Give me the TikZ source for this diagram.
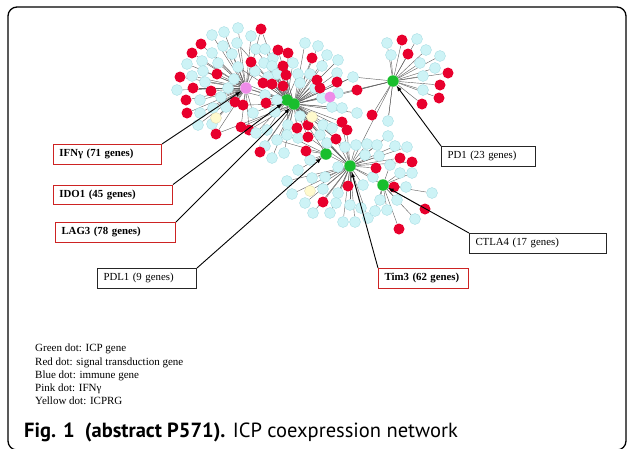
\documentclass[tikz,border=0pt]{standalone}
\usepackage{fontspec}
\setmainfont{Liberation Serif}
\newfontfamily\capfont{PT Sans}
\usetikzlibrary{arrows,backgrounds}
\definecolor{dotblue}{RGB}{205,243,246}
\definecolor{dotrim}{RGB}{170,222,228}
\definecolor{dotred}{RGB}{232,0,45}
\definecolor{dotgreen}{RGB}{25,190,45}
\definecolor{dotpink}{RGB}{238,140,232}
\definecolor{dotyellow}{RGB}{255,250,205}
\definecolor{boxred}{RGB}{205,35,35}

\begin{document}
\begin{tikzpicture}[x=1pt,y=-1pt]
    \tikzset{dot/.style = {shape=circle, inner sep=0pt, minimum size=11pt}}
    \tikzset{dotb/.style = {dot, fill=dotblue, draw=dotrim, line width=0.4pt}}
    \tikzset{dotr/.style = {dot, fill=dotred}}
    \tikzset{doty/.style = {dot, fill=dotyellow, draw=dotyellow!85!black, line width=0.3pt}}
    \tikzset{dotp/.style = {dot, fill=dotpink}}
    \tikzset{hub/.style = {dot, fill=dotgreen, minimum size=11.5pt}}
    \tikzset{link/.style = {draw=black!62, line width=0.42pt}}
    \tikzset{genebox/.style = {draw, line width=1pt, anchor=north west, align=left,
        minimum height=19.5pt, inner xsep=6pt, font=\fontsize{10.8}{13}\selectfont}}
    \tikzset{redbox/.style = {genebox, draw=boxred, font=\fontsize{10.8}{13}\selectfont\bfseries}}
    \tikzset{blackbox/.style = {genebox, draw=black!85}}
    \tikzset{pointer/.style = {->, >=latex, line width=0.9pt}}

    \useasboundingbox (0,0) rectangle (630,448);
    \begin{scope}
        \clip (0,0) rectangle (630,448);
        \draw[line width=1.3pt, rounded corners=9pt] (8,7) rectangle (626,450);
    \end{scope}

    % hubs
    \node[dot, fill=dotpink, minimum size=11.5pt] (ifn) at (246,88) {};
    \node[hub] (ido) at (287,100) {};
    \node[hub] (lag) at (294,104) {};
    \node[hub] (pdone) at (393,81) {};
    \node[hub] (pdlone) at (326,154) {};
    \node[hub] (tim) at (350,166) {};
    \node[hub] (ctla) at (383,185) {};

    % genes around the hubs
    \foreach \px/\py/\k/\h in {
        212/35/b/ifn, 224/32/b/ifn, 238/28/b/ifn, 251/36/b/ifn, 237/43/b/ifn,
        223/46/b/ifn, 212/53/b/ifn, 232/54/b/ifn, 202/61/b/ifn, 218/63/b/ifn,
        187/64/b/ifn, 203/71/b/ifn, 192/76/b/ifn, 238/67/b/ifn, 255/71/b/ifn,
        234/79/b/ifn, 205/82/b/ifn, 177/90/b/ifn, 228/88/b/ifn, 200/100/b/ifn,
        213/108/b/ifn, 200/113/b/ifn, 212/124/b/ifn, 226/107/b/ifn, 253/113/b/ifn,
        198/125/b/ifn, 221/97/b/ifn,
        261/29/r/ifn, 201/44/r/ifn, 192/53/r/ifn, 251/62/r/ifn, 217/74/r/ifn,
        180/77/r/ifn, 193/88/r/ifn, 211/91/r/ifn, 186/100/r/ifn, 235/102/r/ifn,
        243/105/r/ifn, 187/113/r/ifn, 216/134/r/ifn, 241/127/r/ifn, 249/130/r/ifn,
        216/118/y/ifn,
        256/49/b/lag, 265/49/b/ido, 273/58/b/lag, 293/63/b/ido, 264/63/b/lag,
        272/66/b/ido, 277/74/b/lag, 298/74/b/ido, 310/74/b/lag, 322/66/b/lag,
        337/73/b/lag, 353/77/b/lag, 268/77/b/ido, 300/83/b/lag, 315/88/b/lag,
        338/93/b/lag, 322/98/b/lag, 332/107/b/lag, 342/108/b/lag, 357/113/b/lag,
        265/95/b/ido, 277/100/b/ido, 275/112/b/ido, 300/116/b/lag, 305/43/b/lag,
        318/46/b/lag, 327/55/b/lag, 338/60/b/lag, 323/125/b/lag, 332/128/b/lag,
        288/125/b/ido, 267/130/b/ido, 277/140/b/lag, 287/135/b/lag, 320/135/b/lag,
        327/143/b/lag, 345/147/b/lag, 256/133/b/ido, 265/146/b/lag, 284/153/b/lag,
        272/158/b/lag, 298/138/b/lag,
        278/50/r/lag, 288/53/r/ido, 312/58/r/lag, 283/66/r/ido, 286/75/r/lag,
        263/83/r/ido, 272/84/r/lag, 283/86/r/ido, 317/80/r/lag, 320/88/r/lag,
        337/82/r/lag, 266/103/r/ido, 297/128/r/lag, 308/125/r/lag, 308/137/r/lag,
        342/122/r/lag, 347/130/r/lag, 336/139/r/lag, 260/152/r/lag,
        330/97/p/lag, 312/117/y/lag,
        387/43/b/pdone, 417/39/b/pdone, 391/55/b/pdone, 426/50/b/pdone, 440/56/b/pdone,
        420/63/b/pdone, 435/68/b/pdone, 423/76/b/pdone, 423/90/b/pdone, 388/121/b/pdone,
        402/40/r/pdone, 408/54/r/pdone, 448/73/r/pdone, 440/85/r/pdone, 439/98/r/pdone,
        422/104/r/pdone, 372/115/r/pdone, 357/90/r/pdone,
        310/160/b/pdlone, 306/151/r/pdlone, 298/170/b/pdlone,
        287/181/b/tim, 292/194/b/tim, 305/203/b/tim, 313/213/b/tim, 325/177/b/tim,
        323/189/b/tim, 338/193/b/tim, 330/213/b/tim, 336/203/b/tim, 343/222/b/tim,
        355/222/b/tim, 350/205/b/tim, 361/208/b/tim, 368/218/b/tim, 363/185/b/tim,
        365/155/b/tim, 373/177/b/tim, 338/167/b/tim, 312/178/b/tim, 367/144/b/tim,
        377/145/b/tim, 388/136/b/tim, 395/146/b/tim, 407/147/b/tim, 379/156/b/tim,
        356/145/b/tim,
        348/186/r/tim, 323/202/r/tim, 376/168/r/tim, 400/158/r/tim, 412/162/r/tim,
        310/191/y/tim,
        380/200/b/ctla, 387/210/b/ctla, 375/211/b/ctla, 397/200/b/ctla, 406/187/b/ctla,
        415/219/b/ctla, 432/193/b/ctla, 400/173/b/ctla, 412/173/b/ctla, 390/165/b/ctla,
        394/187/r/ctla, 425/209/r/ctla, 399/229/r/ctla}
    {
        \node[dot\k] (n\px-\py) at (\px,\py) {};
        \begin{pgfonlayer}{background}
            \draw[link] (\h) -- (n\px-\py);
        \end{pgfonlayer}
    }

    % extra links
    \begin{pgfonlayer}{background}
        \foreach \h/\n in {lag/251-62, lag/238-67, lag/234-79, lag/228-88, lag/243-105,
            lag/241-127, lag/249-130, lag/216-134, ido/253-113, ido/255-71,
            ido/237-43, ido/261-29, lag/353-77, pdone/353-77, pdone/330-97,
            pdone/388-121, tim/308-137, tim/336-139, tim/320-135, tim/327-143,
            tim/345-147, tim/347-130, tim/342-122, pdlone/277-140, pdlone/287-135}
            \draw[link] (\h) -- (n\n);
        \foreach \a/\b in {ifn/ido, ifn/lag, ido/lag, lag/pdlone, lag/tim, pdone/tim,
            pdone/lag, tim/ctla, pdlone/tim, ido/tim}
            \draw[link] (\a) -- (\b);
    \end{pgfonlayer}

    % labels
    \node[redbox, text width=96pt] (ifnbox) at (53,144) {IFNγ (71 genes)};
    \node[redbox, text width=107pt] (idobox) at (53,184.5) {IDO1 (45 genes)};
    \node[redbox, text width=108pt] (lagbox) at (55,222) {LAG3 (78 genes)};
    \node[blackbox, text width=87pt] (pdlonebox) at (97,268) {PDL1 (9 genes)};
    \node[blackbox, text width=82pt] (pdonebox) at (441,146) {PD1 (23 genes)};
    \node[blackbox, text width=125pt] (ctlabox) at (469,233) {CTLA4 (17 genes)};
    \node[redbox, text width=78pt] (timbox) at (378,268) {Tim3 (62 genes)};

    % arrows
    \draw[pointer] (ifnbox.north east) -- (ifn);
    \draw[pointer] (idobox.north east) -- (ido);
    \draw[pointer] (lagbox.north east) -- (lag);
    \draw[pointer] (pdlonebox.north east) -- (pdlone);
    \draw[pointer] (pdonebox.north west) -- (pdone);
    \draw[pointer] (ctlabox.north west) -- (ctla);
    \draw[pointer] (timbox.north west) -- (tim);

    % legend and caption
    \node[anchor=north west, align=left, inner sep=0pt, font=\fontsize{11}{13.2}\selectfont] (legend) at (35,344)
        {Green dot: ICP gene\\ Red dot: signal transduction gene\\ Blue dot: immune gene\\
         Pink dot: IFNγ\\ Yellow dot: ICPRG};
    \node[anchor=base west, inner sep=0pt, font=\capfont\fontsize{20.5}{22}\selectfont] (caption) at (24,437)
        {\textbf{Fig. 1\enspace(abstract P571).} ICP coexpression network};
\end{tikzpicture}
\end{document}
